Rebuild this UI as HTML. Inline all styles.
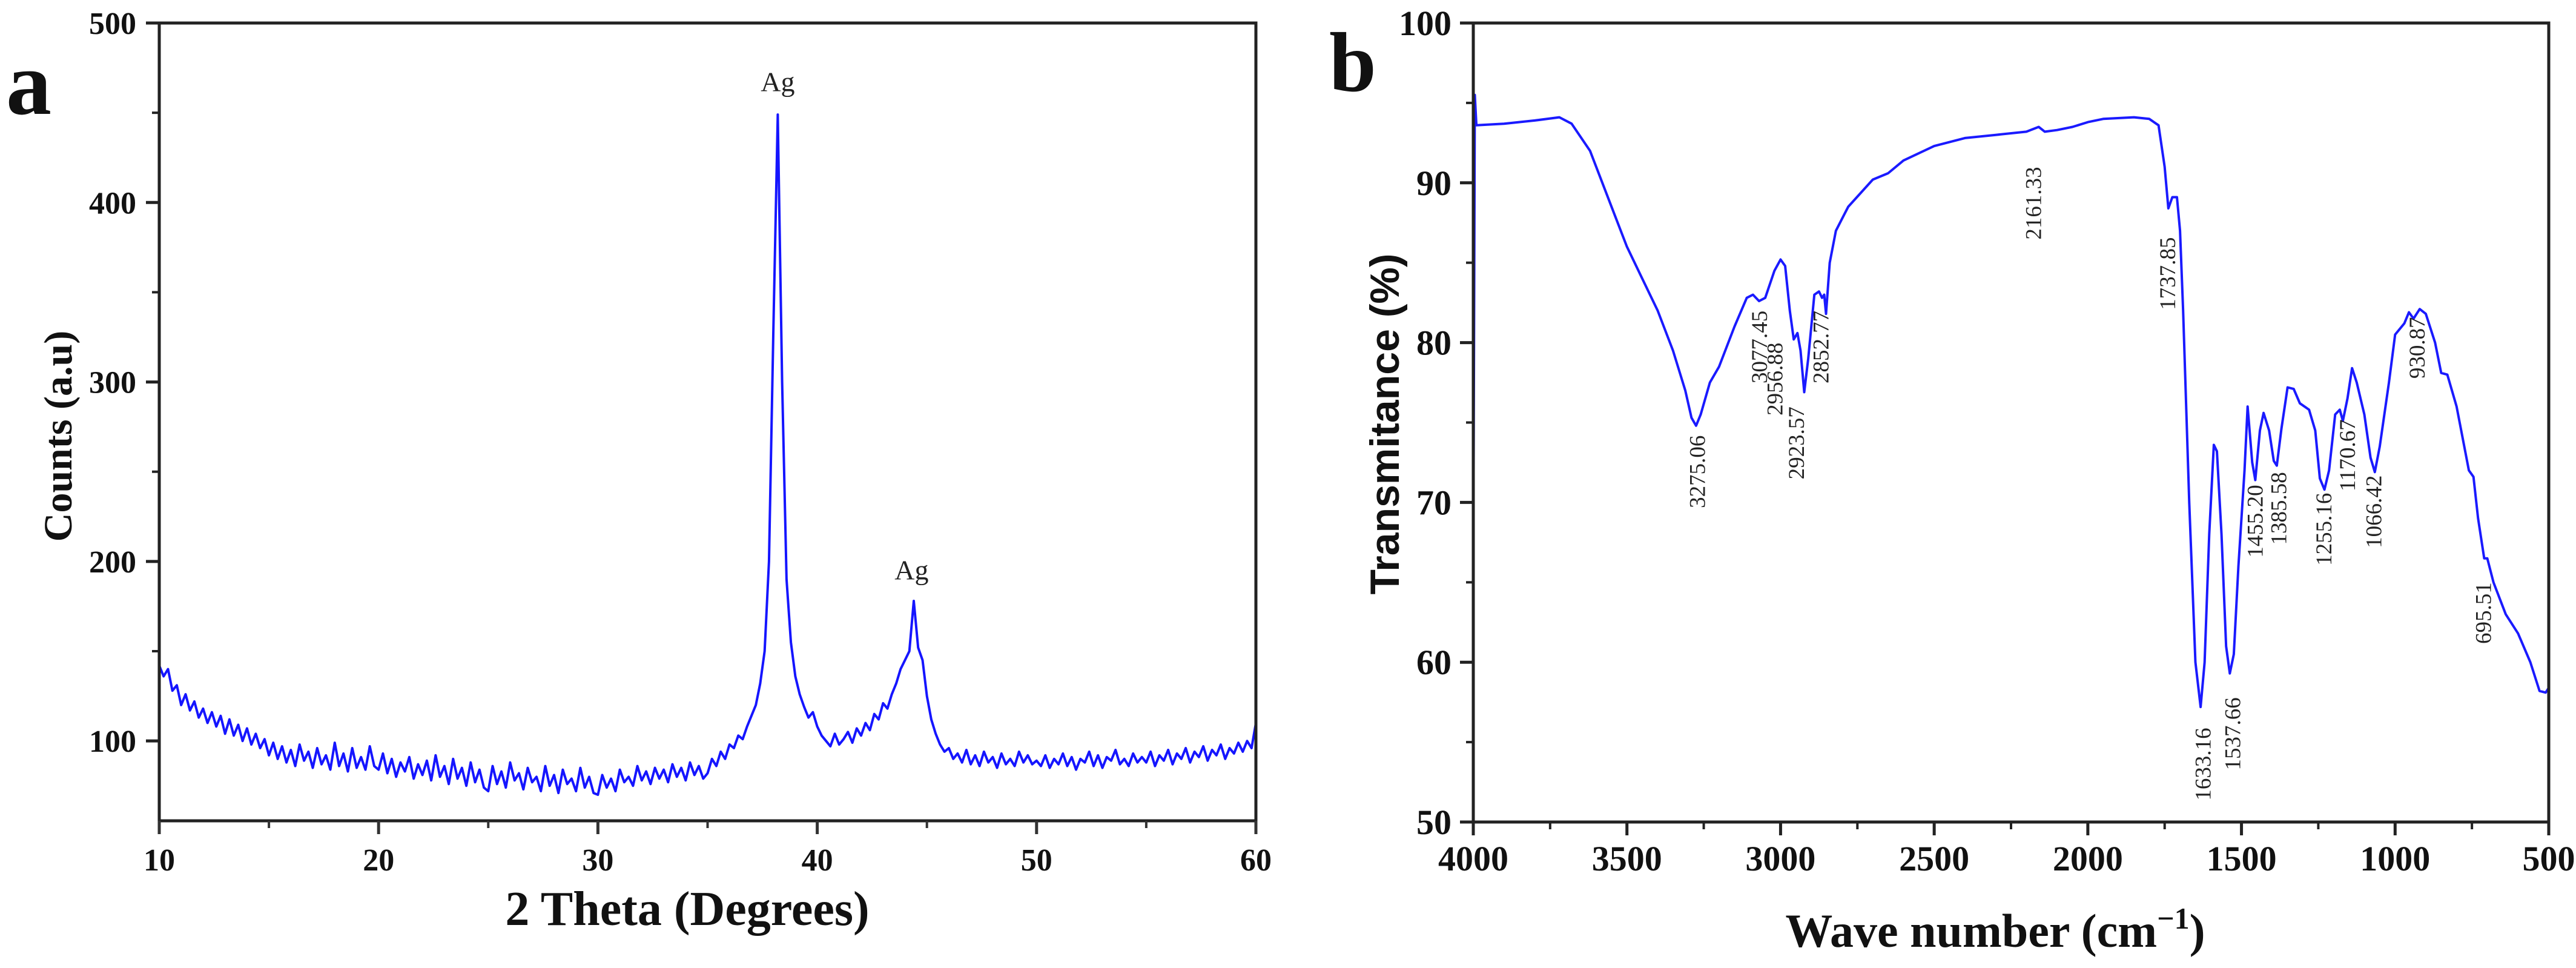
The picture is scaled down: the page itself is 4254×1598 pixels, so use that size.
<!DOCTYPE html>
<html><head><meta charset="utf-8">
<style>
html,body{margin:0;padding:0;background:#fff;}
svg{display:block;}
.tk{font-family:"Liberation Serif",serif;font-weight:bold;fill:#111;}
.pl{font-family:"Liberation Serif",serif;fill:#222;}
</style></head>
<body>
<svg id="fig" width="4254" height="1598" viewBox="0 0 4254 1598" xmlns="http://www.w3.org/2000/svg">
<rect width="4254" height="1598" fill="#fff"/>
<g id="chartA"></g>
<g id="chartB"></g>
</svg>
<script>
// ---------- XRD data (panel a) ----------
const xrdStart = 10, xrdStep = 0.2;
const xrdCounts = [
142,136,140,128,131,120,126,117,122,113,118,110,116,108,114,104,112,103,109,100,107,98,104,96,101,
92,99,90,97,88,95,86,98,89,94,85,96,87,92,84,99,86,93,83,96,85,91,84,97,86,
84,93,82,90,80,88,83,91,79,87,81,89,78,92,80,86,76,90,79,85,75,88,77,84,74,
72,86,76,83,74,88,78,82,73,85,77,80,72,86,75,81,71,84,76,79,72,85,74,80,71,
70,81,74,79,72,84,77,80,75,86,78,83,76,85,79,84,77,87,80,85,78,88,81,86,79,
82,90,86,94,90,98,96,103,101,108,114,120,132,150,200,330,449,300,190,155,136,126,119,113,116,
108,103,100,97,104,98,101,105,99,107,103,110,106,115,112,121,118,126,132,140,145,150,178,152,145,
125,112,104,98,94,96,90,93,88,95,87,92,86,94,88,91,85,93,87,90,86,94,88,92,87,
89,86,92,85,90,87,93,86,91,84,90,88,94,86,92,85,91,89,95,87,90,86,93,88,91,
88,94,86,92,89,95,87,93,90,96,88,94,91,97,89,95,92,98,90,96,93,99,94,100,96,
110];
const xrdXTicks = [10,20,30,40,50,60];
const xrdYTicks = [100,200,300,400,500];
const xrdPeakLabels = ["Ag","Ag"];
const xrdPeakX = [38.2,44.3];
const xrdPeakY = [462,190];

// ---------- FTIR data (panel b) ----------
const ftirWn = [4000,3995,3990,3900,3800,3720,3680,3620,3550,3500,3450,3400,3350,3310,3290,3275,3260,3230,3200,3150,3110,3090,3070,3050,3020,3000,2985,2970,2957,2945,2935,2923,2910,2890,2875,2865,2858,2852,2840,2820,2780,2700,2650,2600,2500,2400,2300,2200,2160,2140,2100,2050,2000,1950,1850,1800,1770,1750,1738,1725,1710,1700,1690,1670,1650,1633,1620,1605,1590,1580,1565,1550,1538,1525,1510,1490,1480,1465,1455,1440,1428,1410,1395,1385,1370,1350,1330,1310,1280,1260,1245,1230,1215,1195,1180,1170,1155,1140,1125,1100,1080,1066,1050,1020,1000,970,955,940,920,900,870,850,830,800,760,745,730,710,700,680,640,600,560,530,510,500];
const ftirT = [66,95.5,93.6,93.7,93.9,94.1,93.7,92,88.5,86,84,82,79.5,77,75.3,74.8,75.5,77.5,78.5,81,82.8,83,82.6,82.8,84.5,85.2,84.8,82,80.2,80.6,79.5,76.9,79,83,83.2,82.8,83,81.8,85,87,88.5,90.2,90.6,91.4,92.3,92.8,93,93.2,93.5,93.2,93.3,93.5,93.8,94,94.1,94.0,93.6,91,88.4,89.1,89.1,87,82,70,60,57.2,60,68,73.6,73.2,68,61,59.3,60.5,66,72,76,72.5,71.4,74.5,75.6,74.5,72.6,72.3,74.6,77.2,77.1,76.2,75.8,74.5,71.5,70.8,72,75.5,75.8,75.1,76.5,78.4,77.5,75.5,72.8,71.9,73.5,77.5,80.5,81.2,81.9,81.5,82.1,81.8,80,78.1,78,76,72,71.6,69,66.5,66.5,65,63,61.8,60,58.2,58.1,58.4];
const ftirXTicks = [4000,3500,3000,2500,2000,1500,1000,500];
const ftirYTicks = [50,60,70,80,90,100];
const peakNames = ["3275.06","3077.45","2956.88","2923.57","2852.77","2161.33","1737.85","1633.16","1537.66","1455.20","1385.58","1255.16","1170.67","1066.42","930.87","695.51"];
const peakLabelWn = [3272,3070,3020,2950,2870,2178,1742,1626,1530,1457,1380,1233,1156,1071,930,714];
const peakLabelTop = [74.2,82.0,80.0,76.0,82.0,91.0,86.6,55.9,57.8,71.1,71.9,70.6,75.2,71.7,81.6,65.0];

const NS = "http://www.w3.org/2000/svg";
function mk(tag, attrs, parent, text){
  const e = document.createElementNS(NS, tag);
  for (const k in attrs) e.setAttribute(k, attrs[k]);
  if (text !== undefined) e.textContent = text;
  parent.appendChild(e); return e;
}

// ---------- Panel a ----------
(function(){
  const g = document.getElementById('chartA');
  const L=263, R=2074, T=38, B=1355, xmin=10, xmax=60, ymin=55.5, ymax=500;
  const sx = v => L + (v-xmin)/(xmax-xmin)*(R-L);
  const sy = v => B - (v-ymin)/(ymax-ymin)*(B-T);
  let d = "";
  xrdCounts.forEach((c,i)=>{ const x = xrdStart + i*xrdStep; d += (i?"L":"M")+sx(x).toFixed(1)+","+sy(c).toFixed(1); });
  const p = mk('path',{d:d,fill:'none',stroke:'#1515ff','stroke-width':4,'stroke-linejoin':'round'},g);
  
  
  const fr = mk('rect',{x:L,y:T,width:R-L,height:B-T,fill:'none',stroke:'#222','stroke-width':5},g);
  
  
  xrdXTicks.forEach(v=>{
    const tl = mk('line',{x1:sx(v),x2:sx(v),y1:B,y2:B+22,stroke:'#333','stroke-width':5},g);
    
    
    const t = mk('text',{x:sx(v),y:B+82,'text-anchor':'middle','font-size':52,class:'tk'},g,String(v));
    
    
  });
  for (let v=15; v<60; v+=10){
    const m = mk('line',{x1:sx(v),x2:sx(v),y1:B,y2:B+12,stroke:'#333','stroke-width':4},g);
    
    
  }
  xrdYTicks.forEach(v=>{
    const tl = mk('line',{x1:L-22,x2:L,y1:sy(v),y2:sy(v),stroke:'#222','stroke-width':5},g);
    
    
    const t = mk('text',{x:L-38,y:sy(v)+18,'text-anchor':'end','font-size':52,class:'tk'},g,String(v));
    
    
  });
  for (let v=150; v<500; v+=100){
    const m = mk('line',{x1:L-12,x2:L,y1:sy(v),y2:sy(v),stroke:'#222','stroke-width':4},g);
    
    
  }
  xrdPeakLabels.forEach((s,i)=>{
    const t = mk('text',{x:sx(xrdPeakX[i]),y:sy(xrdPeakY[i]),'text-anchor':'middle','font-size':46,class:'pl'},g,s);
    
    
  });
  const xt = mk('text',{x:1135,y:1527,'text-anchor':'middle','font-size':80,class:'tk'},g,"2 Theta (Degrees)");
  
  
  const yt = mk('text',{x:0,y:0,'text-anchor':'middle','font-size':66,class:'tk',transform:'translate(118,720) rotate(-90)'},g,"Counts (a.u)");
  
  
  const pa = mk('text',{x:10,y:188,'font-size':150,class:'tk'},g,"a");
  
  
})();

// ---------- Panel b ----------
(function(){
  const g = document.getElementById('chartB');
  const L=2433, R=4209, T=38, B=1357, xmin=500, xmax=4000, ymin=50, ymax=100;
  const sx = v => L + (xmax-v)/(xmax-xmin)*(R-L);
  const sy = v => B - (v-ymin)/(ymax-ymin)*(B-T);
  let d = "";
  ftirWn.forEach((w,i)=>{ d += (i?"L":"M")+sx(w).toFixed(1)+","+sy(ftirT[i]).toFixed(1); });
  const p = mk('path',{d:d,fill:'none',stroke:'#1a1aff','stroke-width':4,'stroke-linejoin':'round'},g);
  
  
  const fr = mk('rect',{x:L,y:T,width:R-L,height:B-T,fill:'none',stroke:'#222','stroke-width':5},g);
  
  
  ftirXTicks.forEach(v=>{
    const tl = mk('line',{x1:sx(v),x2:sx(v),y1:B,y2:B+22,stroke:'#222','stroke-width':5},g);
    
    
    const t = mk('text',{x:sx(v),y:B+80,'text-anchor':'middle','font-size':58,class:'tk'},g,String(v));
    
    
  });
  for (let v=3750; v>500; v-=500){
    const m = mk('line',{x1:sx(v),x2:sx(v),y1:B,y2:B+12,stroke:'#222','stroke-width':4},g);
    
    
  }
  ftirYTicks.forEach(v=>{
    const tl = mk('line',{x1:L-22,x2:L,y1:sy(v),y2:sy(v),stroke:'#222','stroke-width':5},g);
    
    
    const t = mk('text',{x:L-36,y:sy(v)+20,'text-anchor':'end','font-size':58,class:'tk'},g,String(v));
    
    
  });
  for (let v=55; v<100; v+=10){
    const m = mk('line',{x1:L-12,x2:L,y1:sy(v),y2:sy(v),stroke:'#222','stroke-width':4},g);
    
    
  }
  peakNames.forEach((s,i)=>{
    const x = sx(peakLabelWn[i])+13, y = sy(peakLabelTop[i]);
    const t = mk('text',{x:0,y:0,'text-anchor':'end','font-size':37,class:'pl',transform:'translate('+x.toFixed(1)+','+y.toFixed(1)+') rotate(-90)'},g,s);
    
    
  });
  const xt = mk('text',{x:3295,y:1563,'text-anchor':'middle','font-size':78,class:'tk'},g,"");
  
  
  xt.appendChild(document.createTextNode("Wave number (cm"));
  mk('tspan',{dy:-30,'font-size':50},xt,"\u22121");
  mk('tspan',{dy:30},xt,")");
  const yt = mk('text',{x:0,y:0,'text-anchor':'middle','font-size':68,'font-family':'"Liberation Sans",sans-serif','font-weight':'bold',fill:'#111',transform:'translate(2310,700) rotate(-90)'},g,"Transmitance (%)");
  
  
  const pb = mk('text',{x:2195,y:150,'font-size':140,class:'tk'},g,"b");
  
  
})();
</script>
</body></html>
